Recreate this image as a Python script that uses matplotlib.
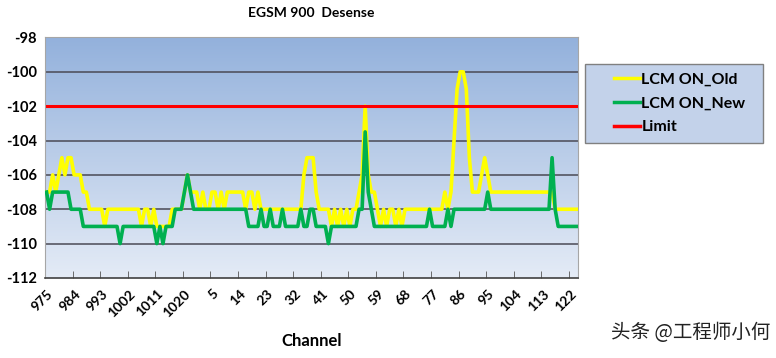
import numpy as np
import matplotlib
matplotlib.use("Agg")
import matplotlib.pyplot as plt
from matplotlib.colors import LinearSegmentedColormap
from matplotlib.patches import Rectangle

plt.rcParams['font.family'] = ['Lato', 'DejaVu Sans']

# EGSM 900 channels: 975..1023 then 0..124
channels = list(range(975, 1024)) + list(range(0, 125))

lcm_old = [
    -107, -107, -106, -107, -106, -105, -106, -105, -105, -106,
    -106, -106, -107, -107, -108, -108, -108, -108, -108, -109,
    -108, -108, -108, -108, -108, -108, -108, -108, -108, -108,
    -108, -109, -108, -108, -109, -108, -109, -109, -109, -109,
    -109, -108, -108, -108, -108, -107, -106, -107, -107, -107,
    -108, -107, -108, -108, -107, -107, -108, -107, -108, -107,
    -107, -107, -107, -107, -107, -108, -107, -107, -108, -107,
    -108, -108, -108, -108, -108, -108, -108, -108, -108, -108,
    -108, -108, -108, -108, -106, -105, -105, -105, -107, -108,
    -108, -108, -108, -109, -108, -109, -108, -109, -108, -109,
    -108, -108, -107, -106, -102, -106, -107, -107, -108, -109,
    -108, -109, -108, -108, -109, -108, -109, -108, -108, -108,
    -108, -108, -108, -108, -108, -108, -108, -108, -108, -108,
    -107, -108, -107, -104, -101, -100, -100, -101, -105, -107,
    -107, -107, -106, -105, -106, -107, -107, -107, -107, -107,
    -107, -107, -107, -107, -107, -107, -107, -107, -107, -107,
    -107, -107, -107, -107, -107, -107, -108, -108, -108, -108,
    -108, -108, -108, -108,
]

lcm_new = [
    -107, -108, -107, -107, -107, -107, -107, -107, -108, -108,
    -108, -108, -109, -109, -109, -109, -109, -109, -109, -109,
    -109, -109, -109, -109, -110, -109, -109, -109, -109, -109,
    -109, -109, -109, -109, -109, -109, -110, -109, -110, -109,
    -109, -109, -108, -108, -108, -107, -106, -107, -108, -108,
    -108, -108, -108, -108, -108, -108, -108, -108, -108, -108,
    -108, -108, -108, -108, -108, -108, -109, -109, -109, -109,
    -108, -109, -109, -108, -109, -109, -109, -108, -109, -109,
    -109, -109, -109, -108, -109, -109, -108, -108, -109, -109,
    -109, -109, -110, -109, -109, -109, -109, -109, -109, -109,
    -109, -109, -108, -108, -103.5, -107, -108, -109, -109, -109,
    -109, -109, -109, -109, -109, -109, -109, -109, -109, -109,
    -109, -109, -109, -109, -109, -108, -109, -109, -109, -109,
    -109, -108, -109, -108, -108, -108, -108, -108, -108, -108,
    -108, -108, -108, -108, -107, -108, -108, -108, -108, -108,
    -108, -108, -108, -108, -108, -108, -108, -108, -108, -108,
    -108, -108, -108, -108, -108, -105, -108, -109, -109, -109,
    -109, -109, -109, -109,
]

limit = [-102] * len(channels)

yticks = [-98, -100, -102, -104, -106, -108, -110, -112]

x = np.arange(len(channels))

W, H = 776, 358
fig = plt.figure(figsize=(W / 100, H / 100), dpi=100)
ax = fig.add_axes([0.058, 0.2235, 0.687, 0.672])

# gradient plot area
grad = LinearSegmentedColormap.from_list('bg', ['#e4ebf6', '#93b1dc'])
ax.imshow(np.linspace(0, 1, 256).reshape(-1, 1)[::-1], cmap=grad, aspect='auto',
          extent=[0, 1, 0, 1], transform=ax.transAxes, zorder=0)

for yv in yticks[1:-1]:
    ax.axhline(yv, color='#4a4a55', lw=1.1, zorder=1)

ax.plot(x, lcm_old, color='#ffff00', lw=2.6, label='LCM ON_Old', zorder=3)
ax.plot(x, lcm_new, color='#00b050', lw=2.6, label='LCM ON_New', zorder=4)
ax.plot(x, limit, color='#ff0000', lw=2.2, label='Limit', zorder=5)

ax.set_xlim(-0.5, len(channels) - 0.5)
ax.set_ylim(-112, -98)
ax.set_yticks(yticks)
ax.set_yticklabels([str(v) for v in yticks], fontsize=10.5, fontweight='bold')
ax.tick_params(axis='y', length=0, pad=6)

ax.set_xticks(x[::9])
ax.set_xticklabels([str(c) for c in channels[::9]], rotation=45, ha='right',
                   rotation_mode='anchor', fontsize=10, fontweight='bold')
ax.tick_params(axis='x', which='major', length=0, pad=7)
ax.set_xticks(np.arange(8.5, len(channels), 9), minor=True)
ax.tick_params(axis='x', which='minor', direction='in', length=5, color='#555555')

for s in ['top', 'right', 'left']:
    ax.spines[s].set_color('#a6a6a6')
ax.spines['bottom'].set_color('#404040')
ax.spines['bottom'].set_linewidth(1.2)

ax.set_xlabel('Channel', fontsize=12, fontweight='bold', labelpad=10)
ax.set_title('EGSM 900  Desense', fontsize=10, fontweight='bold', pad=15)

# legend frame drawn as a figure patch, entries placed inside it
fig.patches.append(Rectangle((585 / W, 1 - 143 / H), 178 / W, 79 / H,
                             transform=fig.transFigure, facecolor='#c3d2ea',
                             edgecolor='#808080', lw=1.0, zorder=0))
leg = fig.legend(loc='center left', bbox_to_anchor=(606 / W, 1 - 103.5 / H), frameon=False,
                 handlelength=1.6, handletextpad=0.12, labelspacing=0.6, borderpad=0.0,
                 prop={'weight': 'bold', 'size': 11.5})
for line in leg.get_lines():
    line.set_linewidth(2.5)

fig.text(0.993, 0.072, '头条 @工程师小何', ha='right', va='center', fontsize=14,
         color='#222222', family=['Noto Sans CJK SC', 'DejaVu Sans'])

fig.savefig('out.png', dpi=100)
